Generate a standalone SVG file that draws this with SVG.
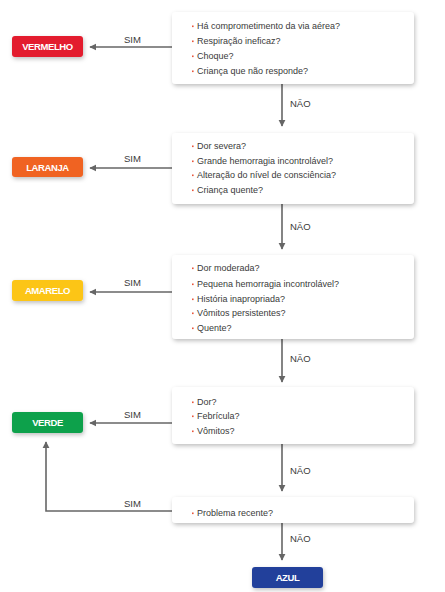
<svg xmlns="http://www.w3.org/2000/svg" width="445" height="592" viewBox="0 0 445 592">
<style>
.q{font-family:"Liberation Sans",Arial,sans-serif;font-size:9px;fill:#3a3a3a}
.b{fill:#e8553a}
.lbl{font-family:"Liberation Sans",Arial,sans-serif;font-size:9.5px;fill:#3a3a3a}
.tag{font-family:"Liberation Sans",Arial,sans-serif;font-size:9.5px;font-weight:bold;fill:#fff;text-anchor:middle;letter-spacing:-0.4px}
.box{fill:#fff;filter:url(#sh)}
.ln{stroke:#666;stroke-width:1.6;fill:none}
</style>
<defs>
<filter id="sh" x="-10%" y="-20%" width="120%" height="150%">
<feDropShadow dx="1" dy="2" stdDeviation="2" flood-color="#000" flood-opacity="0.25"/>
</filter>
<marker id="ar" viewBox="0 0 10 10" refX="9" refY="5" markerWidth="4.5" markerHeight="4.5" orient="auto">
<path d="M0,0 L10,5 L0,10 z" fill="#666"/>
</marker>
</defs>
<rect width="445" height="592" fill="#fff"/>

<g id="connectors">
<line class="ln" x1="172" y1="47" x2="90" y2="47" marker-end="url(#ar)"/>
<line class="ln" x1="172" y1="168" x2="90" y2="168" marker-end="url(#ar)"/>
<line class="ln" x1="172" y1="292" x2="90" y2="292" marker-end="url(#ar)"/>
<line class="ln" x1="172" y1="423" x2="90" y2="423" marker-end="url(#ar)"/>
<polyline class="ln" points="172,511 46,511 46,442" marker-end="url(#ar)" stroke-width="1.3"/>
<line class="ln" x1="282" y1="84" x2="282" y2="126" marker-end="url(#ar)"/>
<line class="ln" x1="282" y1="204" x2="282" y2="249" marker-end="url(#ar)"/>
<line class="ln" x1="282" y1="339" x2="282" y2="382" marker-end="url(#ar)"/>
<line class="ln" x1="282" y1="444" x2="282" y2="491" marker-end="url(#ar)"/>
<line class="ln" x1="282" y1="523" x2="282" y2="560" marker-end="url(#ar)"/>
<text class="lbl" x="124" y="43">SIM</text>
<text class="lbl" x="124" y="162">SIM</text>
<text class="lbl" x="124" y="286">SIM</text>
<text class="lbl" x="124" y="418">SIM</text>
<text class="lbl" x="124" y="507">SIM</text>
<text class="lbl" x="290" y="107">NÃO</text>
<text class="lbl" x="290" y="230">NÃO</text>
<text class="lbl" x="290" y="362">NÃO</text>
<text class="lbl" x="290" y="474">NÃO</text>
<text class="lbl" x="290" y="542">NÃO</text>
</g>

<g id="q1">
<rect class="box" x="172" y="12" width="242" height="72" rx="4"/>
<rect class="b" x="192" y="25.5" width="1.6" height="1.6"/>
<text class="q" x="197" y="29">Há comprometimento da via aérea?</text>
<rect class="b" x="192" y="40.5" width="1.6" height="1.6"/>
<text class="q" x="197" y="44">Respiração ineficaz?</text>
<rect class="b" x="192" y="55.5" width="1.6" height="1.6"/>
<text class="q" x="197" y="59">Choque?</text>
<rect class="b" x="192" y="70.5" width="1.6" height="1.6"/>
<text class="q" x="197" y="74">Criança que não responde?</text>
</g>

<g id="q2">
<rect class="box" x="172" y="133" width="242" height="71" rx="4"/>
<rect class="b" x="192" y="145.5" width="1.6" height="1.6"/>
<text class="q" x="197" y="149">Dor severa?</text>
<rect class="b" x="192" y="160.5" width="1.6" height="1.6"/>
<text class="q" x="197" y="164">Grande hemorragia incontrolável?</text>
<rect class="b" x="192" y="174.5" width="1.6" height="1.6"/>
<text class="q" x="197" y="178">Alteração do nível de consciência?</text>
<rect class="b" x="192" y="189.5" width="1.6" height="1.6"/>
<text class="q" x="197" y="193">Criança quente?</text>
</g>

<g id="q3">
<rect class="box" x="172" y="255" width="242" height="84" rx="4"/>
<rect class="b" x="192" y="267.5" width="1.6" height="1.6"/>
<text class="q" x="197" y="271">Dor moderada?</text>
<rect class="b" x="192" y="283.5" width="1.6" height="1.6"/>
<text class="q" x="197" y="287">Pequena hemorragia incontrolável?</text>
<rect class="b" x="192" y="298.5" width="1.6" height="1.6"/>
<text class="q" x="197" y="302">História inapropriada?</text>
<rect class="b" x="192" y="312.5" width="1.6" height="1.6"/>
<text class="q" x="197" y="316">Vômitos persistentes?</text>
<rect class="b" x="192" y="327.5" width="1.6" height="1.6"/>
<text class="q" x="197" y="331">Quente?</text>
</g>

<g id="q4">
<rect class="box" x="172" y="387" width="242" height="57" rx="4"/>
<rect class="b" x="192" y="401.5" width="1.6" height="1.6"/>
<text class="q" x="197" y="405">Dor?</text>
<rect class="b" x="192" y="415.5" width="1.6" height="1.6"/>
<text class="q" x="197" y="419">Febrícula?</text>
<rect class="b" x="192" y="430.5" width="1.6" height="1.6"/>
<text class="q" x="197" y="434">Vômitos?</text>
</g>

<g id="q5">
<rect class="box" x="172" y="497" width="242" height="26" rx="4"/>
<rect class="b" x="192" y="512.5" width="1.6" height="1.6"/>
<text class="q" x="197" y="516">Problema recente?</text>
</g>

<g id="vermelho">
<rect x="12" y="36" width="71" height="21" rx="3" fill="#e31b2d" filter="url(#sh)"/>
<text class="tag" x="47.5" y="50">VERMELHO</text>
</g>
<g id="laranja">
<rect x="12" y="157" width="71" height="20" rx="3" fill="#f06424" filter="url(#sh)"/>
<text class="tag" x="47.5" y="170.5">LARANJA</text>
</g>
<g id="amarelo">
<rect x="12" y="280" width="71" height="21" rx="3" fill="#fcc516" filter="url(#sh)"/>
<text class="tag" x="47.5" y="294">AMARELO</text>
</g>
<g id="verde">
<rect x="12" y="412" width="71" height="21" rx="3" fill="#0fa14c" filter="url(#sh)"/>
<text class="tag" x="47.5" y="426">VERDE</text>
</g>
<g id="azul">
<rect x="252" y="567" width="71" height="21" rx="3" fill="#24419b" filter="url(#sh)"/>
<text class="tag" x="287.5" y="581">AZUL</text>
</g>
</svg>
